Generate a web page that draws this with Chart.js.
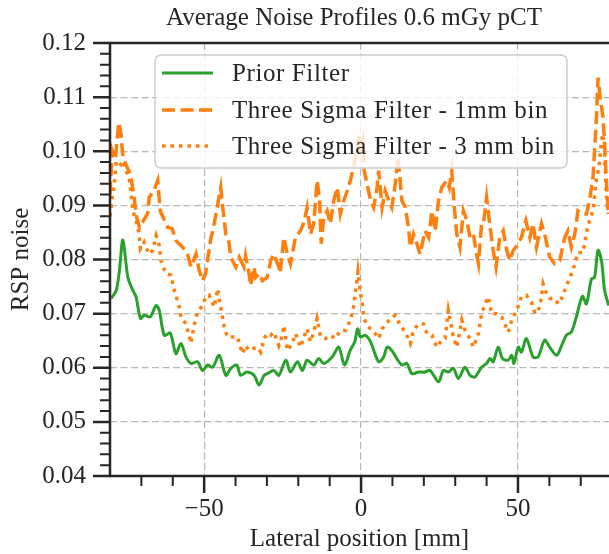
<!DOCTYPE html>
<html>
<head>
<meta charset="utf-8">
<script src="https://cdn.jsdelivr.net/npm/chart.js@4.4.1/dist/chart.umd.min.js"></script>
<style>
  html, body { margin: 0; padding: 0; background: #fff; }
  #wrap { width: 609px; height: 554px; }
</style>
</head>
<body>
<div id="wrap"><canvas id="noiseChart" width="609" height="554"></canvas></div>
<script>
// lateral position [mm] / RSP noise, prior filter
const priorX = [-79.6, -78.0, -77.0, -75.9, -74.3, -72.7, -71.7, -70.3, -69.1, -67.2, -65.3, -64.3, -62.7, -60.8,
  -59.0, -57.4, -55.8, -54.2, -52.1, -50.5, -48.9, -47.3, -45.2, -43.1, -41.5, -39.6, -38.4, -36.4, -34.1, -32.5,
  -30.9, -29.9, -27.8, -26.2, -24.0, -22.5, -20.3, -18.7, -17.2, -15.1, -13.5, -11.9, -9.2, -7.1, -5.3, -3.4, -2.0,
  -1.1, -0.2, 1.4, 3.0, 5.6, 7.2, 8.3, 9.8, 11.4, 13.0, 14.6, 16.2, 18.3, 20.4, 22.0, 24.7, 26.2, 27.8, 29.4, 31.0,
  33.1, 34.7, 36.3, 38.4, 40.0, 41.1, 42.1, 43.7, 45.1, 46.9, 48.0, 48.7, 50.1, 51.1, 52.7, 54.8, 56.4, 58.5, 60.1,
  62.3, 63.9, 65.4, 67.0, 68.6, 70.5, 71.8, 73.4, 74.4, 75.5, 76.6, 77.6, 78.9];
const priorNoise = [0.0728, 0.0743, 0.0780, 0.0836, 0.0767, 0.0743, 0.0731, 0.0691, 0.0697, 0.0694, 0.0715, 0.0706,
  0.0660, 0.0664, 0.0626, 0.0645, 0.0620, 0.0608, 0.0611, 0.0595, 0.0605, 0.0601, 0.0623, 0.0586, 0.0599, 0.0605,
  0.0586, 0.0592, 0.0586, 0.0568, 0.0586, 0.0589, 0.0595, 0.0586, 0.0614, 0.0592, 0.0611, 0.0595, 0.0614, 0.0605,
  0.0617, 0.0608, 0.0620, 0.0638, 0.0605, 0.0633, 0.0648, 0.0672, 0.0657, 0.0660, 0.0648, 0.0611, 0.0620, 0.0638,
  0.0632, 0.0617, 0.0605, 0.0608, 0.0589, 0.0592, 0.0592, 0.0595, 0.0574, 0.0595, 0.0592, 0.0599, 0.0580, 0.0601,
  0.0586, 0.0583, 0.0601, 0.0608, 0.0617, 0.0611, 0.0638, 0.0617, 0.0614, 0.0623, 0.0608, 0.0638, 0.0629, 0.0654,
  0.0620, 0.0620, 0.0651, 0.0638, 0.0623, 0.0641, 0.0660, 0.0666, 0.0694, 0.0732, 0.0718, 0.0764, 0.0767, 0.0817,
  0.0798, 0.0743, 0.0715];

// three sigma filter, 1 mm bins
const sigma1X = [-80.0, -79.3, -78.3, -77.2, -76.5, -75.9, -74.5, -73.5, -72.5, -71.5, -70.6, -69.5, -68.0, -67.5,
  -66.0, -64.8, -64.0, -63.1, -61.6, -60.2, -59.0, -56.9, -55.3, -54.2, -52.6, -51.6, -50.5, -49.5, -48.0, -47.0,
  -44.7, -44.2, -43.1, -42.2, -41.5, -39.9, -38.8, -37.3, -36.8, -35.7, -35.2, -34.1, -33.6, -32.5, -31.4, -29.9,
  -28.8, -27.8, -26.2, -25.8, -24.6, -23.5, -22.5, -20.9, -19.3, -18.2, -17.2, -16.1, -15.1, -14.0, -13.2, -12.7,
  -11.9, -10.8, -9.8, -8.7, -7.6, -6.6, -5.5, -4.4, -3.4, -2.4, -1.3, -0.6, -0.1, 0.6, 1.0, 1.9, 3.0, 4.0, 5.1, 5.6,
  6.7, 7.7, 8.8, 9.8, 10.9, 11.8, 13.0, 14.1, 15.1, 15.7, 16.7, 17.8, 18.8, 20.4, 21.5, 22.6, 23.6, 24.7, 25.7, 27.3,
  28.1, 28.9, 29.7, 30.5, 31.5, 32.6, 33.7, 34.7, 35.8, 36.8, 37.4, 38.4, 39.0, 40.0, 41.1, 42.1, 43.0, 44.2, 45.3,
  46.4, 47.4, 48.5, 50.1, 51.1, 52.5, 53.8, 54.8, 55.9, 57.5, 58.5, 60.1, 61.7, 63.3, 64.9, 65.9, 67.0, 68.1, 69.1,
  70.7, 71.8, 72.8, 73.9, 74.4, 75.0, 75.5, 76.2, 77.1, 77.6, 78.1, 78.7];
const sigma1Noise = [0.0920, 0.1001, 0.0985, 0.1053, 0.1032, 0.0989, 0.0970, 0.0958, 0.0922, 0.0878, 0.0859, 0.0870,
  0.0885, 0.0915, 0.0927, 0.0946, 0.0890, 0.0878, 0.0859, 0.0857, 0.0835, 0.0823, 0.0810, 0.0786, 0.0810, 0.0780,
  0.0761, 0.0775, 0.0835, 0.0860, 0.0933, 0.0903, 0.0847, 0.0835, 0.0804, 0.0786, 0.0804, 0.0786, 0.0807, 0.0774,
  0.0752, 0.0786, 0.0767, 0.0774, 0.0761, 0.0767, 0.0798, 0.0810, 0.0786, 0.0775, 0.0841, 0.0810, 0.0792, 0.0841,
  0.0853, 0.0869, 0.0896, 0.0847, 0.0866, 0.0946, 0.0909, 0.0829, 0.0878, 0.0890, 0.0866, 0.0909, 0.0933, 0.0884,
  0.0909, 0.0927, 0.0946, 0.0970, 0.1001, 0.1030, 0.0990, 0.1015, 0.0964, 0.0940, 0.0909, 0.0896, 0.0933, 0.0964,
  0.0896, 0.0927, 0.0909, 0.0896, 0.0940, 0.0990, 0.0909, 0.0896, 0.0859, 0.0823, 0.0847, 0.0829, 0.0810, 0.0853,
  0.0841, 0.0890, 0.0853, 0.0909, 0.0933, 0.0946, 0.0933, 0.0964, 0.0896, 0.0847, 0.0823, 0.0890, 0.0872, 0.0841,
  0.0847, 0.0810, 0.0792, 0.0866, 0.0866, 0.0915, 0.0860, 0.0817, 0.0786, 0.0841, 0.0853, 0.0817, 0.0798, 0.0817,
  0.0829, 0.0841, 0.0872, 0.0841, 0.0866, 0.0823, 0.0866, 0.0847, 0.0804, 0.0792, 0.0798, 0.0841, 0.0853, 0.0823,
  0.0847, 0.0890, 0.0884, 0.0884, 0.0909, 0.0952, 0.1001, 0.1062, 0.1136, 0.1099, 0.1062, 0.1013, 0.0952, 0.0890];

// three sigma filter, 3 mm bins
const sigma3X = [-80.0, -79.3, -78.6, -78.0, -76.5, -75.9, -74.9, -73.9, -73.3, -72.7, -71.7, -70.7, -70.3, -69.1,
  -68.6, -67.5, -66.4, -65.3, -64.3, -63.8, -62.2, -60.6, -59.5, -57.9, -57.4, -55.8, -54.8, -54.2, -53.2, -52.1,
  -50.5, -49.5, -48.4, -46.8, -45.7, -44.7, -43.6, -42.6, -41.0, -39.4, -37.8, -36.8, -35.7, -34.6, -33.0, -32.0,
  -30.9, -29.9, -28.8, -27.8, -26.2, -25.1, -24.6, -23.5, -21.9, -20.9, -19.3, -18.2, -17.2, -16.1, -15.1, -14.0,
  -12.9, -11.3, -9.8, -8.2, -6.6, -5.0, -3.4, -2.4, -1.8, -1.3, -1.0, -0.2, 0.3, 0.8, 1.9, 3.0, 4.5, 5.6, 6.7, 7.7,
  9.3, 10.9, 12.5, 14.1, 15.7, 16.7, 18.3, 19.9, 21.0, 22.6, 24.1, 25.7, 26.8, 27.8, 28.4, 29.4, 30.5, 32.1, 33.1,
  34.7, 35.8, 37.4, 38.4, 39.5, 40.5, 41.6, 43.2, 44.8, 45.8, 46.9, 48.0, 49.6, 51.1, 52.7, 54.3, 55.4, 57.0, 58.0,
  59.1, 60.1, 61.7, 62.8, 63.9, 64.9, 65.9, 67.5, 69.1, 70.7, 72.3, 73.9, 75.0, 75.8, 76.6, 77.1, 77.6, 78.1, 78.7];
const sigma3Noise = [0.0880, 0.0915, 0.0940, 0.0982, 0.0975, 0.0982, 0.0964, 0.0952, 0.0921, 0.0890, 0.0872, 0.0847,
  0.0820, 0.0832, 0.0823, 0.0810, 0.0817, 0.0844, 0.0826, 0.0798, 0.0774, 0.0771, 0.0743, 0.0712, 0.0694, 0.0681,
  0.0660, 0.0645, 0.0678, 0.0703, 0.0715, 0.0731, 0.0734, 0.0712, 0.0746, 0.0712, 0.0675, 0.0657, 0.0657, 0.0657,
  0.0626, 0.0641, 0.0632, 0.0635, 0.0638, 0.0629, 0.0654, 0.0663, 0.0660, 0.0666, 0.0641, 0.0660, 0.0678, 0.0632,
  0.0645, 0.0663, 0.0638, 0.0657, 0.0672, 0.0648, 0.0666, 0.0691, 0.0657, 0.0654, 0.0660, 0.0654, 0.0669, 0.0669,
  0.0688, 0.0712, 0.0740, 0.0761, 0.0777, 0.0737, 0.0724, 0.0694, 0.0678, 0.0672, 0.0663, 0.0654, 0.0672, 0.0678,
  0.0691, 0.0697, 0.0678, 0.0666, 0.0645, 0.0669, 0.0681, 0.0681, 0.0663, 0.0660, 0.0638, 0.0651, 0.0654, 0.0706,
  0.0688, 0.0657, 0.0638, 0.0688, 0.0669, 0.0654, 0.0638, 0.0663, 0.0700, 0.0718, 0.0731, 0.0700, 0.0700, 0.0694,
  0.0681, 0.0666, 0.0688, 0.0706, 0.0731, 0.0734, 0.0721, 0.0700, 0.0712, 0.0755, 0.0737, 0.0728, 0.0728, 0.0718,
  0.0728, 0.0743, 0.0758, 0.0780, 0.0813, 0.0813, 0.0863, 0.0890, 0.0950, 0.0970, 0.1019, 0.1032, 0.1000, 0.0927,
  0.0884];

const seriesNames = ['Prior Filter', 'Three Sigma Filter - 1mm bin', 'Three Sigma Filter - 3 mm bin'];
const xTicks = [-50, 0, 50];
const xMinorTicks = [-70, -60, -40, -30, -20, -10, 10, 20, 30, 40, 60, 70];
const yTicks = [0.04, 0.05, 0.06, 0.07, 0.08, 0.09, 0.10, 0.11, 0.12];

const green = '#2ca02c';
const orange = '#ff7f0e';
const ink = '#262626';
const serif = '"Liberation Serif", "DejaVu Serif", serif';
const dash1 = [13, 5.5];
const dash3 = [3.5, 5];

function pairs(xs, ys) {
  return xs.map((x, i) => ({ x: x, y: ys[i] }));
}

// y minor ticks every 0.002 between the labelled ones
const yMinorTicks = [];
for (let i = 1; i < 40; i++) {
  if (i % 5 !== 0) yMinorTicks.push(0.04 + i * 0.002);
}

const decor = {
  id: 'decor',
  afterDatasetsDraw(chart) {
    const ctx = chart.ctx;
    const a = chart.chartArea;
    const xs = chart.scales.x, ys = chart.scales.y;
    ctx.save();

    // legend box, semi transparent over the curves
    const bx = 155, by = 55, bw = 412, bh = 113;
    ctx.beginPath();
    ctx.roundRect(bx, by, bw, bh, 6);
    ctx.fillStyle = 'rgba(255,255,255,0.8)';
    ctx.fill();
    ctx.lineWidth = 1.5;
    ctx.strokeStyle = '#cccccc';
    ctx.stroke();

    const rows = [
      { y: 73, color: green, width: 3, dash: [] },
      { y: 110, color: orange, width: 3.5, dash: dash1 },
      { y: 146, color: orange, width: 3.5, dash: dash3 }
    ];
    ctx.font = '25px ' + serif;
    ctx.letterSpacing = '0.6px';
    ctx.textBaseline = 'middle';
    ctx.textAlign = 'left';
    rows.forEach((r, i) => {
      ctx.beginPath();
      ctx.setLineDash(r.dash);
      ctx.lineWidth = r.width;
      ctx.strokeStyle = r.color;
      ctx.moveTo(162, r.y);
      ctx.lineTo(213, r.y);
      ctx.stroke();
      ctx.fillStyle = ink;
      ctx.fillText(seriesNames[i], 232, r.y + 1);
    });
    ctx.setLineDash([]);
    ctx.letterSpacing = '0px';

    // spines
    ctx.strokeStyle = ink;
    ctx.lineWidth = 2.5;
    ctx.beginPath();
    ctx.moveTo(a.right + 2, a.top);
    ctx.lineTo(a.left, a.top);
    ctx.lineTo(a.left, a.bottom);
    ctx.lineTo(a.right + 2, a.bottom);
    ctx.stroke();

    // outward ticks
    ctx.beginPath();
    ctx.lineWidth = 2.5;
    xTicks.forEach(v => {
      const p = xs.getPixelForValue(v);
      ctx.moveTo(p, a.bottom); ctx.lineTo(p, a.bottom + 17);
    });
    yTicks.forEach(v => {
      const p = ys.getPixelForValue(v);
      ctx.moveTo(a.left, p); ctx.lineTo(a.left - 17, p);
    });
    ctx.stroke();
    ctx.beginPath();
    ctx.lineWidth = 2;
    xMinorTicks.forEach(v => {
      const p = xs.getPixelForValue(v);
      ctx.moveTo(p, a.bottom); ctx.lineTo(p, a.bottom + 10);
    });
    yMinorTicks.forEach(v => {
      const p = ys.getPixelForValue(v);
      ctx.moveTo(a.left, p); ctx.lineTo(a.left - 10, p);
    });
    ctx.stroke();

    // title
    ctx.fillStyle = ink;
    ctx.font = '25px ' + serif;
    ctx.textAlign = 'center';
    ctx.textBaseline = 'middle';
    ctx.fillText('Average Noise Profiles 0.6 mGy pCT', 354, 18);
    ctx.restore();
  }
};

const ctx = document.getElementById('noiseChart');
new Chart(ctx, {
  type: 'line',
  data: {
    datasets: [
      {
        label: seriesNames[0],
        data: pairs(priorX, priorNoise),
        borderColor: green,
        borderWidth: 3,
        tension: 0.3,
        pointRadius: 0
      },
      {
        label: seriesNames[1],
        data: pairs(sigma1X, sigma1Noise),
        borderColor: orange,
        borderWidth: 3.5,
        borderDash: dash1,
        tension: 0,
        pointRadius: 0
      },
      {
        label: seriesNames[2],
        data: pairs(sigma3X, sigma3Noise),
        borderColor: orange,
        borderWidth: 3.5,
        borderDash: dash3,
        tension: 0,
        pointRadius: 0
      }
    ]
  },
  options: {
    responsive: false,
    animation: false,
    devicePixelRatio: 1,
    layout: { padding: { top: 43, right: 0, left: 0, bottom: 0 } },
    plugins: {
      legend: { display: false },
      title: { display: false },
      tooltip: { enabled: false }
    },
    scales: {
      x: {
        type: 'linear',
        min: -80,
        max: 79,
        afterBuildTicks: s => { s.ticks = xTicks.map(v => ({ value: v })); },
        afterFit: s => { s.height = 78; },
        grid: { color: '#b8b8b8', lineWidth: 1.2, drawTicks: false },
        border: { display: false, dash: [7, 3.5] },
        ticks: {
          padding: 18,
          color: ink,
          font: { family: serif, size: 25 },
          callback: v => (v < 0 ? '\u2212' + Math.abs(v) : String(v))
        },
        title: {
          display: true,
          text: 'Lateral position [mm]',
          color: ink,
          font: { family: serif, size: 25 },
          padding: { top: 0, bottom: 0 }
        }
      },
      y: {
        min: 0.04,
        max: 0.12,
        afterBuildTicks: s => { s.ticks = yTicks.map(v => ({ value: v })); },
        afterFit: s => { s.width = 110; },
        grid: { color: '#b8b8b8', lineWidth: 1.2, drawTicks: false },
        border: { display: false, dash: [7, 3.5] },
        ticks: {
          padding: 24,
          color: ink,
          font: { family: serif, size: 25 },
          callback: v => v.toFixed(2)
        },
        title: {
          display: true,
          text: 'RSP noise',
          color: ink,
          font: { family: serif, size: 25 },
          padding: { top: 6, bottom: 0 }
        }
      }
    }
  },
  plugins: [decor]
});
</script>
</body>
</html>
